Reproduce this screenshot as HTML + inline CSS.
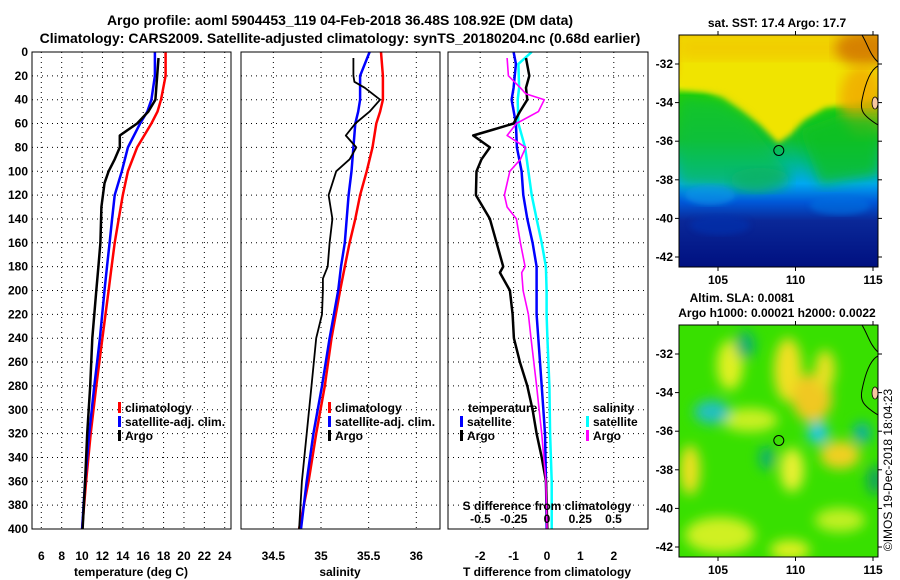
<!DOCTYPE html>
<html><head><meta charset="utf-8"><style>
html,body{margin:0;padding:0;background:#fff;}
svg{display:block;font-family:"Liberation Sans",sans-serif;font-weight:bold;}
</style></head><body>
<svg id="fig" width="900" height="580" viewBox="0 0 900 580">
<defs>
<linearGradient id="sstGrad" x1="0" y1="0" x2="0" y2="1">
<stop offset="0" stop-color="#f0b000"/><stop offset="0.15" stop-color="#f4c800"/>
<stop offset="0.22" stop-color="#e8f000"/><stop offset="0.26" stop-color="#20d000"/>
<stop offset="0.45" stop-color="#10c030"/><stop offset="0.55" stop-color="#00b890"/>
<stop offset="0.64" stop-color="#00a8f0"/><stop offset="0.72" stop-color="#0058d8"/>
<stop offset="0.8" stop-color="#0a2898"/><stop offset="1" stop-color="#001080"/>
</linearGradient>
<filter id="blur6"><feGaussianBlur stdDeviation="6"/></filter>
<filter id="blur3"><feGaussianBlur stdDeviation="3"/></filter>
<filter id="blur2"><feGaussianBlur stdDeviation="1.5"/></filter>
<clipPath id="clipM1"><rect x="679" y="35" width="199" height="232"/></clipPath>
<clipPath id="clipM2"><rect x="679" y="325" width="199" height="232"/></clipPath>
</defs>
<g id="titles" font-size="14">
<text x="340" y="25" text-anchor="middle">Argo profile: aoml 5904453_119 04-Feb-2018 36.48S 108.92E (DM data)</text>
<text x="340" y="43" text-anchor="middle">Climatology: CARS2009. Satellite-adjusted climatology: synTS_20180204.nc (0.68d earlier)</text>
</g>
<g id="grid"></g>
<g id="series"></g>
<g id="frames"></g>
<g id="labels" font-size="12"></g>

<!-- SST map -->
<g>
<text x="777" y="27" text-anchor="middle" font-size="12">sat. SST: 17.4 Argo: 17.7</text>
<g clip-path="url(#clipM1)">
<rect x="679" y="35" width="199" height="232" fill="url(#sstGrad)"/>
<polygon points="679,88 705,92 722,98 740,110 760,125 778,143 790,135 805,120 825,108 850,105 878,100 878,35 679,35" fill="#f0e400" filter="url(#blur3)"/>
<polygon points="679,35 878,35 878,60 679,60" fill="#f2c000" filter="url(#blur6)" opacity="0.6"/>
<ellipse cx="865" cy="48" rx="30" ry="18" fill="#d07000" filter="url(#blur6)" opacity="0.8"/>
<ellipse cx="862" cy="100" rx="22" ry="35" fill="#f0a800" filter="url(#blur6)" opacity="0.8"/>
<polygon points="679,95 720,100 745,118 770,150 790,175 760,190 679,185" fill="#10c040" filter="url(#blur6)" opacity="0.6"/>
<polygon points="800,130 840,115 878,115 878,175 820,185" fill="#10c020" filter="url(#blur6)" opacity="0.8"/>
<ellipse cx="760" cy="180" rx="30" ry="12" fill="#10b060" filter="url(#blur6)" opacity="0.7"/>
<ellipse cx="710" cy="195" rx="25" ry="10" fill="#1098e8" filter="url(#blur3)" opacity="0.6"/>
<ellipse cx="840" cy="205" rx="30" ry="10" fill="#0070e0" filter="url(#blur3)" opacity="0.6"/>
<ellipse cx="720" cy="225" rx="30" ry="10" fill="#0030b0" filter="url(#blur3)" opacity="0.6"/>
<path d="M862,35 C868,45 870,55 878,62 M878,66 C870,70 865,85 862,100 C860,110 862,115 878,125" stroke="#000" fill="none" stroke-width="1"/>
<ellipse cx="875" cy="103" rx="3" ry="6" fill="#f8c8a0" stroke="#000" stroke-width="0.8"/>
</g>
<rect x="679" y="35" width="199" height="232" fill="none" stroke="#000" stroke-width="1"/>
<circle cx="778.8" cy="150.5" r="5" fill="none" stroke="#000" stroke-width="1"/>
</g>

<!-- SLA map -->
<g>
<text x="742" y="302" text-anchor="middle" font-size="12">Altim. SLA: 0.0081</text>
<text x="777" y="317" text-anchor="middle" font-size="12">Argo h1000: 0.00021 h2000: 0.0022</text>
<g clip-path="url(#clipM2)">
<rect x="679" y="325" width="199" height="232" fill="#38e000"/>
<g filter="url(#blur6)">
<ellipse cx="788" cy="370" rx="14" ry="32" fill="#f0e020"/>
<ellipse cx="812" cy="398" rx="20" ry="24" fill="#f0c820"/>
<ellipse cx="825" cy="370" rx="10" ry="20" fill="#e8e020"/>
<ellipse cx="730" cy="365" rx="13" ry="25" fill="#e0f020"/>
<ellipse cx="840" cy="455" rx="20" ry="14" fill="#f0d020"/>
<ellipse cx="792" cy="470" rx="12" ry="22" fill="#e8f030"/>
<ellipse cx="690" cy="470" rx="10" ry="25" fill="#f0e020"/>
<ellipse cx="720" cy="535" rx="35" ry="18" fill="#d0f020"/>
<ellipse cx="790" cy="550" rx="20" ry="10" fill="#e0f020"/>
<ellipse cx="750" cy="420" rx="28" ry="12" fill="#c8f020"/>
<ellipse cx="840" cy="520" rx="25" ry="12" fill="#c0f020"/>
<ellipse cx="712" cy="412" rx="18" ry="12" fill="#20c0c0"/>
<ellipse cx="818" cy="433" rx="11" ry="11" fill="#20c8e0"/>
<ellipse cx="862" cy="433" rx="9" ry="11" fill="#10b0a0"/>
<ellipse cx="745" cy="345" rx="10" ry="14" fill="#10b070"/>
<ellipse cx="767" cy="458" rx="8" ry="12" fill="#10b070"/>
<ellipse cx="875" cy="480" rx="8" ry="15" fill="#10a060"/>
</g>
<path d="M862,325 C868,335 870,345 878,352 M878,356 C870,360 865,375 862,390 C860,400 862,405 878,415" stroke="#000" fill="none" stroke-width="1"/>
<ellipse cx="875" cy="393" rx="3" ry="6" fill="#f8c8a0" stroke="#000" stroke-width="0.8"/>
</g>
<rect x="679" y="325" width="199" height="232" fill="none" stroke="#000" stroke-width="1"/>
<circle cx="778.8" cy="440.5" r="5" fill="none" stroke="#000" stroke-width="1"/>
</g>
<text transform="translate(892,470) rotate(-90)" text-anchor="middle" font-size="12" font-weight="normal">©IMOS 19-Dec-2018 18:04:23</text>
<g id="maplabels" font-size="12"></g>
</svg>
<script>
// ---- data ----
const depthClim = [0,20,40,50,60,80,100,120,140,160,180,200,240,280,320,360,400];
const tClim =   [18.2,18.2,17.75,17.4,16.8,15.4,14.5,14.0,13.6,13.2,12.9,12.6,12.0,11.4,10.85,10.4,10.0];
const depthSat = [0,20,40,50,60,80,100,120,140,160,180,200,240,280,320,360,400];
const tSat =    [17.15,17.15,16.8,16.4,15.7,14.5,13.9,13.2,12.95,12.7,12.45,12.2,11.75,11.2,10.7,10.3,10.0];
const depthArgoT = [5,40,50,60,70,80,90,100,110,130,160,180,200,240,280,320,360,400];
const tArgo =   [17.5,17.2,16.5,15.4,13.7,13.7,13.2,12.6,12.2,11.9,11.8,11.6,11.4,11.0,10.8,10.5,10.3,10.05];

const sClim =   [35.63,35.65,35.65,35.62,35.58,35.54,35.48,35.41,35.36,35.30,35.25,35.2,35.11,35.04,34.95,34.87,34.77];
const sSat =    [35.51,35.41,35.41,35.39,35.36,35.34,35.32,35.29,35.27,35.25,35.21,35.18,35.09,35.01,34.92,34.85,34.79];
const depthArgoS = [5,20,25,30,40,50,60,70,80,90,100,120,140,160,180,190,200,220,240,280,320,360,400];
const sArgo =   [35.34,35.34,35.35,35.46,35.62,35.51,35.36,35.26,35.37,35.30,35.16,35.08,35.12,35.09,35.07,35.02,35.02,35.01,34.95,34.9,34.85,34.8,34.77];

const depthDiff = [0,10,30,40,60,80,100,120,140,160,180,200,220,240,280,320,360,400];
const dTSat =   [-1.0,-0.93,-1.0,-1.06,-0.93,-0.9,-0.76,-0.71,-0.59,-0.43,-0.31,-0.31,-0.31,-0.26,-0.16,-0.06,-0.03,-0.01];
const dSSat =   [-0.115,-0.215,-0.21,-0.22,-0.215,-0.165,-0.14,-0.115,-0.078,-0.04,-0.008,-0.003,-0.003,0.003,0.018,0.023,0.035,0.035];
const depthDiffArgoT = [5,20,30,40,50,60,65,70,80,90,100,120,140,160,180,185,200,220,240,260,280,300,320,340,360,400];
const dTArgo =  [-0.63,-0.53,-0.63,-0.59,-0.81,-1.0,-1.6,-2.21,-1.71,-1.96,-2.11,-2.13,-1.71,-1.51,-1.31,-1.41,-1.11,-1.03,-0.99,-0.81,-0.59,-0.43,-0.31,-0.16,-0.03,0.01];
const depthDiffArgoS = [5,20,30,35,40,50,60,70,75,80,90,100,120,130,140,160,180,185,200,220,240,280,320,360,400];
const dSArgo =  [-0.30,-0.29,-0.2,-0.16,-0.02,-0.065,-0.23,-0.30,-0.23,-0.16,-0.2,-0.28,-0.32,-0.30,-0.23,-0.2,-0.165,-0.19,-0.18,-0.14,-0.12,-0.078,-0.04,-0.008,0.0];

const depthTicks = [0,20,40,60,80,100,120,140,160,180,200,220,240,260,280,300,320,340,360,380,400];
const tTicks = [6,8,10,12,14,16,18,20,22,24];
const sTicks = [34.5,35,35.5,36];
const sTickLabels = ["34.5","35","35.5","36"];
const dTTicks = [-2,-1,0,1,2];
const dSTicks = [-0.5,-0.25,0,0.25,0.5];
const dSTickLabels = ["-0.5","-0.25","0","0.25","0.5"];
const latTicks = [-32,-34,-36,-38,-40,-42];
const lonTicks = [105,110,115];

// ---- axes ----
const Y = d => 52 + d*477/400;
const XT = t => 41.3 + (t-6)*10.19;
const XS = s => 321 + (s-35)*95.3;
const XD = t => 547 + t*33.4;
const XSD = s => 547 + s*133;
const LAT = (lat, top) => top + 29 + (-32 - lat)*19.3;
const LON = lon => 718 + (lon-105)*15.5;

const NS = "http://www.w3.org/2000/svg";
function mk(tag, attrs, parent){ const e=document.createElementNS(NS,tag); for(const k in attrs) e.setAttribute(k,attrs[k]); parent.appendChild(e); return e; }
const grid=document.getElementById('grid'), ser=document.getElementById('series'), fr=document.getElementById('frames'), lab=document.getElementById('labels'), ml=document.getElementById('maplabels');
const panels=[{x0:32,x1:231,name:'temperature-panel'},{x0:241,x1:440,name:'salinity-panel'},{x0:448,x1:648,name:'difference-panel'}];
const vx=[tTicks.map(XT), sTicks.map(XS), dTTicks.map(XD)];
panels.forEach((p,i)=>{
  depthTicks.forEach(d=>{ if(d>0&&d<400){ const l=mk('line',{x1:p.x0,x2:p.x1,y1:Y(d),y2:Y(d),stroke:'#000','stroke-width':1,'stroke-dasharray':'1,4'},grid);
    
     }});
  vx[i].forEach(x=>{ const l=mk('line',{x1:x,x2:x,y1:52,y2:529,stroke:'#000','stroke-width':1,'stroke-dasharray':'1,4'},grid);
    
     });
  const r=mk('rect',{x:p.x0,y:52,width:p.x1-p.x0,height:477,fill:'none',stroke:'#000','stroke-width':1},fr);
  
  
});
depthTicks.forEach(d=>{ const t=mk('text',{x:28,y:Y(d)+4,'text-anchor':'end'},lab); t.textContent=d;
  
   });
tTicks.forEach(v=>{ const t=mk('text',{x:XT(v),y:560,'text-anchor':'middle'},lab); t.textContent=v;
  
   });
sTicks.forEach((v,i)=>{ const t=mk('text',{x:XS(v),y:560,'text-anchor':'middle'},lab); t.textContent=sTickLabels[i];
  
   });
dTTicks.forEach(v=>{ const t=mk('text',{x:XD(v),y:560,'text-anchor':'middle'},lab); t.textContent=v;
  
   });
dSTicks.forEach((v,i)=>{ const t=mk('text',{x:XSD(v),y:523,'text-anchor':'middle'},lab); t.textContent=dSTickLabels[i];
  
   });
function txt(x,y,s,name,anchor,color){ const t=mk('text',{x:x,y:y,'text-anchor':anchor||'start',fill:color||'#000'},lab); t.textContent=s;
  
   return t; }
txt(131,576,'temperature (deg C)','temperature-axis-title','middle');
txt(340,576,'salinity','salinity-axis-title','middle');
txt(547,576,'T difference from climatology','t-diff-axis-title','middle');
txt(547,510,'S difference from climatology','s-diff-axis-title','middle');

function line(xs,ds,fx,color,w,name){ const pts=xs.map((v,i)=>fx(v).toFixed(1)+','+Y(ds[i]).toFixed(1)).join(' ');
  const pl=mk('polyline',{points:pts,fill:'none',stroke:color,'stroke-width':w,'stroke-linejoin':'round'},ser);
  
   }
line(tClim,depthClim,XT,'#ff0000',2.5,'temperature-climatology-line');
line(tSat,depthSat,XT,'#0000ff',2.5,'temperature-satellite-line');
line(tArgo,depthArgoT,XT,'#000',2.5,'temperature-argo-line');
line(sClim,depthClim,XS,'#ff0000',2.5,'salinity-climatology-line');
line(sSat,depthClim,XS,'#0000ff',2.5,'salinity-satellite-line');
line(sArgo,depthArgoS,XS,'#000',1.8,'salinity-argo-line');
line(dSSat,depthDiff,XSD,'#00ffff',2.5,'s-diff-satellite-line');
line(dTSat,depthDiff,XD,'#0000ff',2.5,'t-diff-satellite-line');
line(dTArgo,depthDiffArgoT,XD,'#000',2.5,'t-diff-argo-line');
line(dSArgo,depthDiffArgoS,XSD,'#ff00ff',1.6,'s-diff-argo-line');

function leg(x,y,color,label,name){ const b=mk('rect',{x:x,y:y-10,width:3,height:11,fill:color},lab);
  
  
  if(label) txt(x+7,y,label,name); }
[['#ff0000','climatology'],['#0000ff','satellite-adj. clim.'],['#000','Argo']].forEach((e,i)=>{
  leg(118,412+i*14,e[0],e[1],'temperature-legend-entry');
  leg(328,412+i*14,e[0],e[1],'salinity-legend-entry');
});
txt(468,412,'temperature','diff-legend-temperature-header');
txt(593,412,'salinity','diff-legend-salinity-header');
leg(460,426,'#0000ff','satellite','diff-legend-t-satellite');
leg(460,440,'#000','Argo','diff-legend-t-argo');
leg(586,426,'#00ffff','satellite','diff-legend-s-satellite');
leg(586,440,'#ff00ff','Argo','diff-legend-s-argo');

[35,325].forEach((top,mi)=>{
  latTicks.forEach(v=>{ const y=LAT(v,top);
    const t=mk('text',{x:673,y:y+4,'text-anchor':'end'},ml); t.textContent=v;
    
    
    mk('line',{x1:675,x2:679,y1:y,y2:y,stroke:'#000'},ml);
    mk('line',{x1:878,x2:882,y1:y,y2:y,stroke:'#000'},ml); });
  lonTicks.forEach(v=>{ const x=LON(v);
    const t=mk('text',{x:x,y:top+249,'text-anchor':'middle'},ml); t.textContent=v;
    
    
    mk('line',{x1:x,x2:x,y1:top,y2:top-4,stroke:'#000'},ml);
    mk('line',{x1:x,x2:x,y1:top+232,y2:top+236,stroke:'#000'},ml); });
});
</script>
</body></html>
